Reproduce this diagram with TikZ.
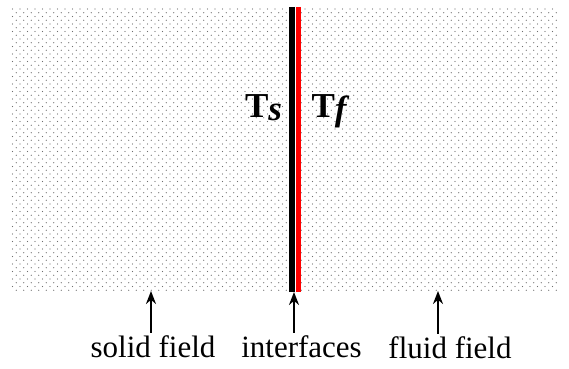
\documentclass[tikz,border=0pt]{standalone}
\usepackage{fontspec}
\setmainfont{Liberation Serif}
\usetikzlibrary{arrows.meta}
\definecolor{solidwall}{HTML}{000000}
\definecolor{fluidwall}{HTML}{FF0000}
\definecolor{dotgrey}{HTML}{6E6E6E}
\newcommand{\labelfont}{\fontsize{15.5}{18}\selectfont}
\newcommand{\tempfont}{\fontsize{17.5}{20}\selectfont\bfseries}

\begin{document}
\begin{tikzpicture}[x=0.5pt,y=-0.5pt,font=\labelfont,
  pointer/.style={-{Stealth[length=6.5pt,width=5pt]},line width=1pt},
  fieldlabel/.style={anchor=base,inner sep=1.5pt},
  templabel/.style={anchor=base,inner sep=0pt,font=\tempfont}]
\useasboundingbox (0,0) rectangle (569,369);

% dotted fields on both sides, one path per row
\foreach \j [evaluate=\j as \off using {3.75*mod(\j,2)}] in {0,...,75} {
  \fill[dotgrey] \foreach \i in {0,...,72} {(12.5+7.5*\i+\off,9+3.75*\j) circle (0.33pt)};
}

% the two interfaces
\draw[solidwall,line width=3pt] (292,7) -- (292,292);
\draw[fluidwall,line width=2.5pt] (298,7) -- (298,292);

\node[templabel] (ts) at (263.5,117.3) {T\raisebox{-0.1em}{\itshape s}};
\node[templabel] (tf) at (329,117.3) {T\raisebox{-0.1em}{\itshape f}};

\coordinate (solidtip) at (151,291);
\coordinate (ifacetip) at (294,292);
\coordinate (fluidtip) at (438,291);

\node[fieldlabel] (solid) at (153,358) {solid field};
\node[fieldlabel] (iface) at (301.5,358) {interfaces};
\node[fieldlabel] (fluid) at (450,359) {fluid field};

\draw[pointer] (solid.north -| solidtip) -- (solidtip);
\draw[pointer] (iface.north -| ifacetip) -- (ifacetip);
\draw[pointer] (fluid.north -| fluidtip) -- (fluidtip);
\end{tikzpicture}
\end{document}
